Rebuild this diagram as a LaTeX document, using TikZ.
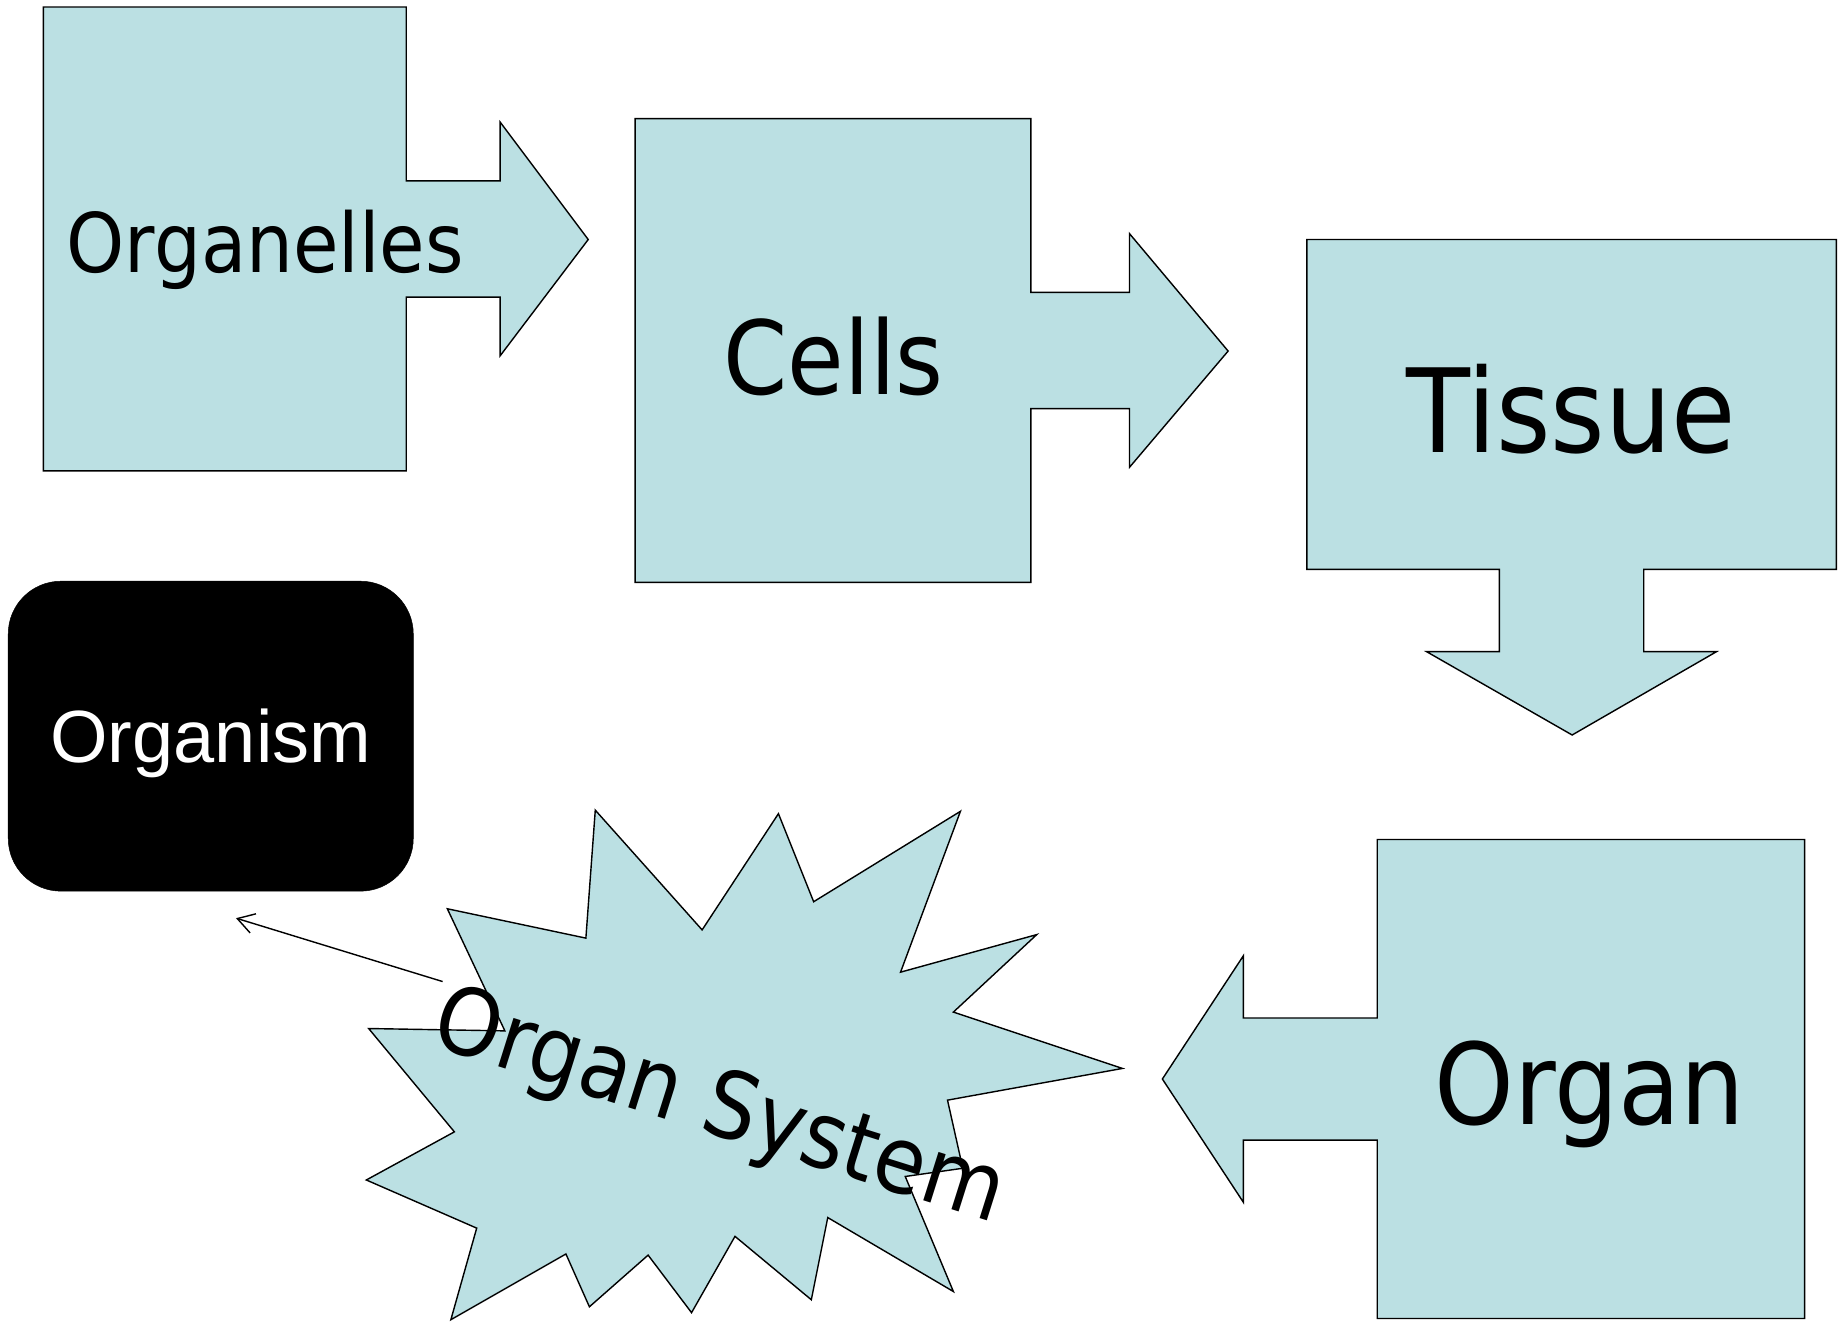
\documentclass[tikz,border=0pt]{standalone}
\usepackage{fontspec}
\newfontfamily\calloutfont[FakeStretch=0.9]{DejaVu Sans}
\newfontfamily\organismfont{Liberation Sans}
\usetikzlibrary{arrows.meta}
\definecolor{cellblue}{RGB}{187,224,227}
\newcommand\wordsize[1]{\fontsize{#1pt}{#1pt}\selectfont}

\begin{document}
\begin{tikzpicture}[
  x=1pt,y=-1pt,
  part/.style={draw,fill=cellblue,line width=1.2pt},
  word/.style={anchor=base,inner sep=0pt,font=\calloutfont},
  organism box/.style={draw,fill=black,rounded corners=45pt,minimum width=345pt,minimum height=264pt,inner sep=0pt,text depth=0pt,text=white,font=\organismfont\wordsize{63}},
  link/.style={-{Straight Barb[length=14pt,width=17pt]},line width=1.2pt}
]
\useasboundingbox (0,0) rectangle (1568,1129);

% organelles -> cells
\draw[part] (37,6) -- (346,6) -- (346,154) -- (426,154) -- (426,104) -- (501,204)
  -- (426,303) -- (426,253) -- (346,253) -- (346,401) -- (37,401) -- cycle;
\node[word] (organelles) at (226,232) {\wordsize{70}Organelles};

% cells -> tissue
\draw[part] (541,101) -- (878,101) -- (878,249) -- (962,249) -- (962,199) -- (1046,299)
  -- (962,398) -- (962,348) -- (878,348) -- (878,496) -- (541,496) -- cycle;
\node[word] (cells) at (710,336) {\wordsize{87}Cells};

% tissue -> organ
\draw[part] (1113,204) -- (1564,204) -- (1564,485) -- (1400,485) -- (1400,555) -- (1462,555)
  -- (1339,626) -- (1215,555) -- (1277,555) -- (1277,485) -- (1113,485) -- cycle;
\node[word] (tissue) at (1338,385) {\wordsize{99}Tissue};

% organ -> organ system
\draw[part] (1173,715) -- (1537,715) -- (1537,1123) -- (1173,1123) -- (1173,971) -- (1059,971)
  -- (1059,1024) -- (990,919) -- (1059,814) -- (1059,867) -- (1173,867) -- cycle;
\node[word] (organ) at (1354,958) {\wordsize{96}Organ};

% organ system burst
\draw[part] (507,690) -- (598,792) -- (663,693) -- (693,768) -- (818,691) -- (767,828)
  -- (883,796) -- (812,862) -- (956,910) -- (807,937) -- (820,995) -- (771,1002)
  -- (812,1100) -- (705,1037) -- (691,1107) -- (626,1053) -- (589,1118) -- (552,1069)
  -- (502,1113) -- (482,1068) -- (384,1124) -- (406,1046) -- (312,1005) -- (387,964)
  -- (314,876) -- (430,878) -- (381,774) -- (499,799) -- cycle;
\node[word,rotate=-17.5] (system) at (606,966) {\wordsize{79}Organ System};

% organism
\node[organism box] (organism) at (179.5,627) {Organism};

\coordinate (system tail) at (377,836);
\coordinate (organism tip) at (201,782);
\draw[link] (system tail) -- (organism tip);
\end{tikzpicture}
\end{document}
